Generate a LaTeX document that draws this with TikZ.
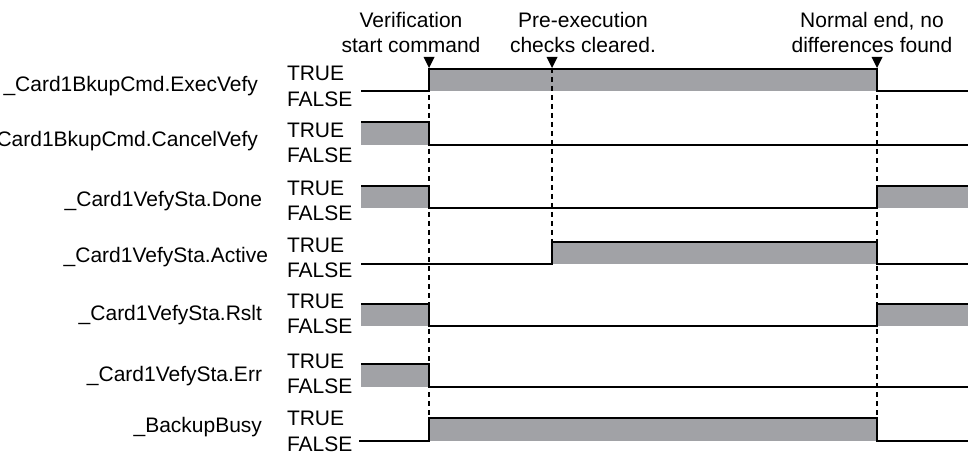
\documentclass[tikz,border=0pt]{standalone}
\usepackage{fontspec}
\setmainfont{Liberation Sans}
\usetikzlibrary{calc}
\definecolor{sig}{RGB}{161,162,166}
\begin{document}
\begin{tikzpicture}[x=0.5pt,y=-0.5pt,
  txt/.style={font=\fontsize{10.5}{12.6}\selectfont, inner sep=0pt, outer sep=0pt},
  lvl/.style={txt, anchor=base west},
  sname/.style={txt, anchor=base east},
  note/.style={txt, anchor=base},
  wave/.style={line width=1pt, line join=miter},
  guide/.style={line width=0.6pt, dash pattern=on 2.5pt off 2pt},
  marker/.style={fill=black}]
\clip (0,0) rectangle (968,454);
\useasboundingbox (0,0) rectangle (968,454);

% annotations
\node[note] (n1a) at (411,28) {Verification};
\node[note] (n1b) at (411,53) {start command};
\node[note] (n2a) at (583,28) {Pre-execution};
\node[note] (n2b) at (583,53) {checks cleared.};
\node[note] (n3a) at (872,28) {Normal end, no};
\node[note] (n3b) at (872,53) {differences found};

% signal names
\node[sname] (s1) at (258,92) {\_Card1BkupCmd.ExecVefy};
\node[sname] (s2) at (258,147) {\_Card1BkupCmd.CancelVefy};
\node[sname] (s3) at (262,206) {\_Card1VefySta.Done};
\node[sname] (s4) at (268,263) {\_Card1VefySta.Active};
\node[sname] (s5) at (262,320) {\_Card1VefySta.Rslt};
\node[sname] (s6) at (262,381) {\_Card1VefySta.Err};
\node[sname] (s7) at (262,432) {\_BackupBusy};

% TRUE / FALSE
\foreach \i/\t/\f in {1/80.5/106.5, 2/137.5/162.5, 3/195.5/220.5, 4/252.5/277.5, 5/308.5/333.5, 6/368/393, 7/425.5/451}{
  \node[lvl] (tr\i) at (287,\t) {TRUE};
  \node[lvl] (fa\i) at (287,\f) {FALSE};
}

% fills
\fill[sig] (429,69) rectangle (877,91);
\fill[sig] (361,122) rectangle (429,145);
\fill[sig] (361,186) rectangle (429,208);
\fill[sig] (877,186) rectangle (968,208);
\fill[sig] (552,242) rectangle (877,264);
\fill[sig] (361,304) rectangle (429,326);
\fill[sig] (877,304) rectangle (968,326);
\fill[sig] (361,364) rectangle (429,387);
\fill[sig] (429,418) rectangle (877,441);

% guides
\coordinate (m1) at (429,68);
\coordinate (m2) at (552,68);
\coordinate (m3) at (877,68);
\coordinate (e1) at (429,418);
\coordinate (e2) at (552,242);
\coordinate (e3) at (877,418);
\draw[guide] (m1) -- (e1);
\draw[guide] (m2) -- (e2);
\draw[guide] (m3) -- (e3);
\foreach \m in {m1,m2,m3}{
  \fill[marker] ($(\m)+(-5.5,-11)$) -- ($(\m)+(5.5,-11)$) -- (\m) -- cycle;
}

% waveforms
\draw[wave] (361,91) -- (429,91) -- (429,69) -- (877,69) -- (877,91) -- (968,91);
\draw[wave] (361,122) -- (429,122) -- (429,145) -- (968,145);
\draw[wave] (361,186) -- (429,186) -- (429,208) -- (877,208) -- (877,186) -- (968,186);
\draw[wave] (361,264) -- (552,264) -- (552,242) -- (877,242) -- (877,264) -- (968,264);
\draw[wave] (361,304) -- (429,304) -- (429,326) -- (877,326) -- (877,304) -- (968,304);
\draw[wave] (361,364) -- (429,364) -- (429,387) -- (968,387);
\draw[wave] (359,441) -- (429,441) -- (429,418) -- (877,418) -- (877,441) -- (968,441);
\end{tikzpicture}
\end{document}
